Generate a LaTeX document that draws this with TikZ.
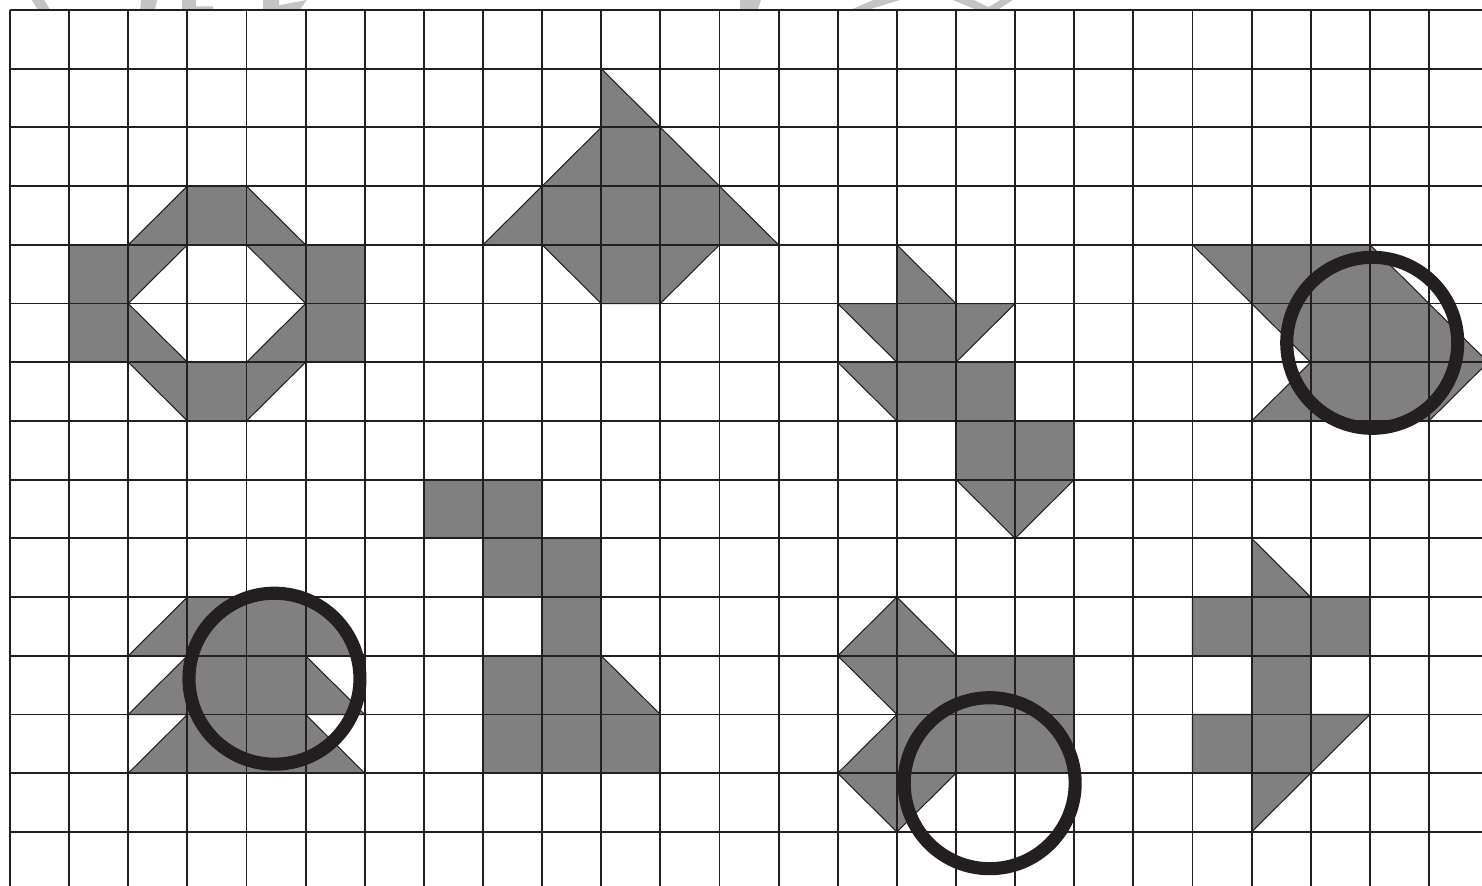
\documentclass[tikz,border=0pt]{standalone}
\usepackage{tikz}
\usetikzlibrary{calc}
\definecolor{shade}{HTML}{808080}
\definecolor{ink}{HTML}{231F20}
\definecolor{faintgray}{HTML}{C4C4C4}
\newcommand{\ring}[2]{\draw[ink,line width=6.3pt] (#1,-#2) circle (1.446cm);}
\tikzset{piece/.style={fill=shade,draw=ink,line width=0.5pt,line join=miter}}

\begin{document}
\begin{tikzpicture}[x=1cm,y=0.993cm]
\useasboundingbox (-0.169,0.170) rectangle (24.897,-14.921);
\clip (-0.169,0.170) rectangle (24.897,-14.921);
% faint marks above the sheet
\fill[faintgray] (0.37,0.17)--(0.58,0.17)--(0.68,0)--(0.47,0)--cycle;
\fill[faintgray] (2.22,0.17)--(2.49,0.17)--(2.45,0)--(2.20,0)--cycle;
\fill[faintgray] (2.91,0.17)--(3.15,0.17)--(3.15,0.06)--(3.43,0.06)--(3.43,0)--(2.91,0)--cycle;
\fill[faintgray] (4.28,0.17)--(4.55,0.17)--(4.55,0.08)--(5.02,0.17)--(4.90,0)--(4.28,0)--cycle;
\fill[faintgray] (12.35,0.17)--(12.70,0.17)--(12.65,0)--(12.35,0)--cycle;
\fill[faintgray] (14.60,0.17)--(15.05,0.17)--(14.50,0)--(14.21,0)--cycle;
\fill[faintgray] (15.95,0.17)--(16.30,0.17)--(16.55,0.05)--(16.75,0.17)--(16.96,0.17)--(16.70,0)--(16.35,0)--cycle;
% shaded pieces
\fill[piece,even odd rule] (3,-3)--(4,-3)--(5,-4)--(6,-4)--(6,-6)--(5,-6)--(4,-7)--(3,-7)--(2,-6)--(1,-6)--(1,-4)--(2,-4)--cycle
  (3,-4)--(4,-4)--(5,-5)--(4,-6)--(3,-6)--(2,-5)--cycle;
\fill[piece] (10,-1)--(13,-4)--(12,-4)--(11,-5)--(10,-5)--(9,-4)--(8,-4)--(10,-2)--cycle;
\fill[piece] (15,-4)--(16,-5)--(17,-5)--(16,-6)--(17,-6)--(17,-7)--(18,-7)--(18,-8)--(17,-9)--(16,-8)--(16,-7)--(15,-7)--(14,-6)--(15,-6)--(14,-5)--(15,-5)--cycle;
\fill[piece] (20,-4)--(23,-4)--(25,-6)--(24,-7)--(21,-7)--(22,-6)--cycle;
\fill[piece] (3,-10)--(5,-10)--(6,-11)--(5,-11)--(6,-12)--(5,-12)--(6,-13)--(2,-13)--(3,-12)--(2,-12)--(3,-11)--(2,-11)--cycle;
\fill[piece] (7,-8)--(9,-8)--(9,-9)--(10,-9)--(10,-11)--(11,-12)--(11,-13)--(8,-13)--(8,-11)--(9,-11)--(9,-10)--(8,-10)--(8,-9)--(7,-9)--cycle;
\fill[piece] (15,-10)--(16,-11)--(18,-11)--(18,-13)--(16,-13)--(15,-14)--(14,-13)--(15,-12)--(14,-11)--cycle;
\fill[piece] (21,-9)--(22,-10)--(23,-10)--(23,-11)--(22,-11)--(22,-12)--(23,-12)--(21,-14)--(21,-13)--(20,-13)--(20,-12)--(21,-12)--(21,-11)--(20,-11)--(20,-10)--(21,-10)--cycle;
% grid
\foreach \r in {0,...,14} \draw[ink,line width=0.9pt] (0,-\r) -- (24.897,-\r);
\foreach \c in {0,...,24} \draw[ink,line width=0.9pt] (\c,0) -- (\c,-14.921);
% rings
\ring{23.04}{5.669}
\ring{4.473}{11.39}
\ring{16.57}{13.17}
\end{tikzpicture}
\end{document}
